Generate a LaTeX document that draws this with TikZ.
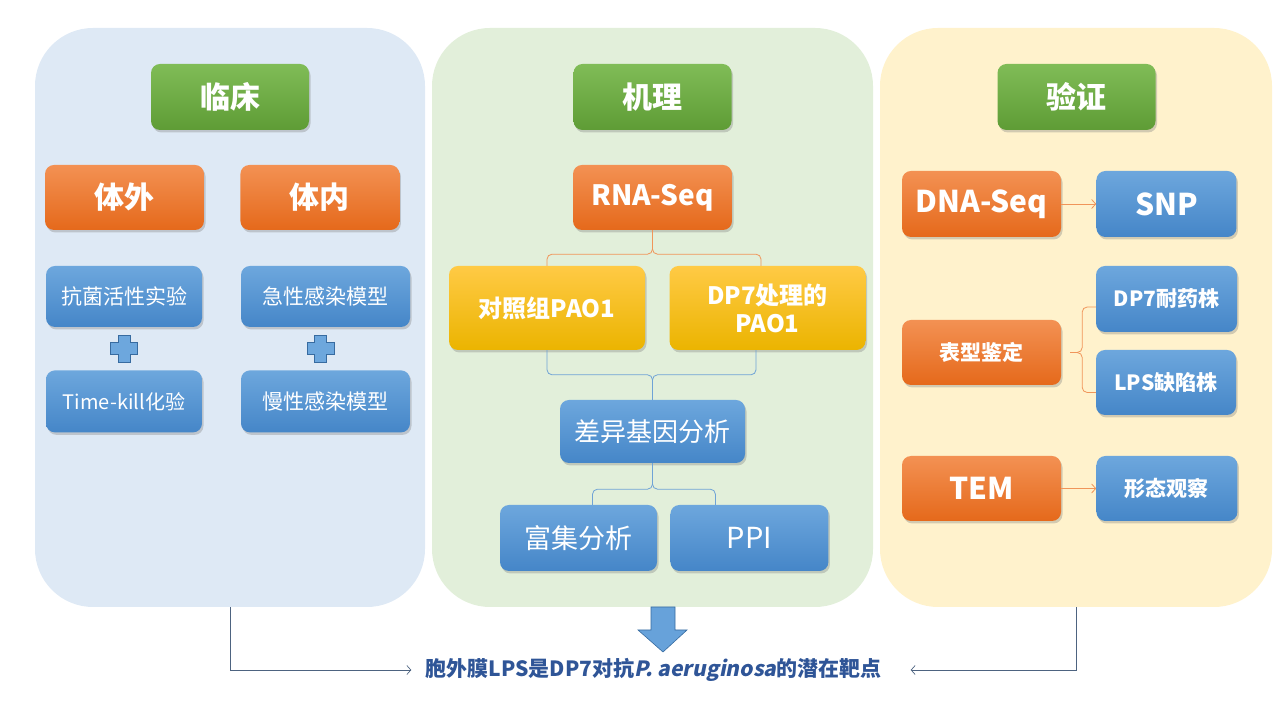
\documentclass[tikz,border=0pt]{standalone}
\usepackage{fontspec}
\setmainfont{Noto Sans CJK SC}
\newfontfamily\slantfont{Noto Sans CJK SC}[FakeSlant=0.2, BoldFeatures={FakeSlant=0.2}]
\usetikzlibrary{positioning, arrows.meta, shadows, calc}

\definecolor{panelblue}{HTML}{DEE9F5}
\definecolor{panelgreen}{HTML}{E2EFDA}
\definecolor{panelyellow}{HTML}{FFF2CC}
\definecolor{greenT}{HTML}{80BC57}
\definecolor{greenB}{HTML}{5E9C35}
\definecolor{orangeT}{HTML}{F39153}
\definecolor{orangeB}{HTML}{E5691B}
\definecolor{blueT}{HTML}{6DA7DD}
\definecolor{blueB}{HTML}{4586C8}
\definecolor{goldT}{HTML}{FFCA45}
\definecolor{goldB}{HTML}{EBB400}
\definecolor{braceblue}{HTML}{6FA3D6}
\definecolor{braceorange}{HTML}{F0955A}
\definecolor{linkgrey}{HTML}{4D6380}
\definecolor{concblue}{HTML}{2F5597}

\tikzset{plussign/.pic={
    \filldraw[fill=blueT, draw=blueB!80!black, line width=0.6pt]
      (-6,13.5) -- (6,13.5) -- (6,6) -- (13.5,6) -- (13.5,-6) -- (6,-6)
      -- (6,-13.5) -- (-6,-13.5) -- (-6,-6) -- (-13.5,-6) -- (-13.5,6)
      -- (-6,6) -- cycle;
}}

\begin{document}
\begin{tikzpicture}[x=1pt, y=1pt, >={Straight Barb[length=4pt, width=9pt]},
    panel/.style={rounded corners=58pt, inner sep=0pt, minimum height=579pt},
    box/.style={rounded corners=9pt, inner sep=0pt, align=center, text=white,
      drop shadow={shadow xshift=1.5pt, shadow yshift=-2.5pt, opacity=0.35}},
    greenbox/.style={box, top color=greenT, bottom color=greenB,
      minimum width=158pt, minimum height=66pt, font=\bfseries\fontsize{30}{34}\selectfont},
    orangebox/.style={box, top color=orangeT, bottom color=orangeB},
    bluebox/.style={box, top color=blueT, bottom color=blueB},
    goldbox/.style={box, top color=goldT, bottom color=goldB,
      minimum width=196pt, minimum height=84pt, font=\bfseries\fontsize{24}{28}\selectfont},
    bbrace/.style={draw=braceblue, line width=0.8pt, rounded corners=5pt},
    obrace/.style={draw=braceorange, line width=0.8pt, rounded corners=5pt},
    link/.style={draw=linkgrey, line width=0.7pt, ->}]

\useasboundingbox (0,0) rectangle (1280,720);

% panels
\node[panel, fill=panelblue, minimum width=390pt] (clin) at (230,402.5) {};
\node[panel, fill=panelgreen, minimum width=441pt] (mech) at (652.5,402.5) {};
\node[panel, fill=panelyellow, minimum width=392pt] (verif) at (1076,402.5) {};

% titles
\node[greenbox] (clintitle) at (230,623) {临床};
\node[greenbox] (mechtitle) at (652.5,623) {机理};
\node[greenbox] (veriftitle) at (1076.5,623) {验证};

% clinical column
\node[orangebox, minimum width=159pt, minimum height=65pt,
  font=\bfseries\fontsize{30}{34}\selectfont] (invitro) at (124.5,522.5) {体外};
\node[orangebox, minimum width=159pt, minimum height=65pt,
  font=\bfseries\fontsize{30}{34}\selectfont] (invivo) [right=36pt of invitro] {体内};
\node[bluebox, minimum width=156pt, minimum height=61pt,
  font=\fontsize{21}{25}\selectfont] (anti) at (124,423.5) {抗菌活性实验};
\node[bluebox, minimum width=169pt, minimum height=61pt,
  font=\fontsize{21}{25}\selectfont] (acute) at (325.5,423.5) {急性感染模型};
\node[bluebox, minimum width=156pt, minimum height=62pt,
  font=\fontsize{20}{24}\selectfont] (tkill) [below=43pt of anti] {Time-kill化验};
\node[bluebox, minimum width=169pt, minimum height=62pt,
  font=\fontsize{21}{25}\selectfont] (chronic) [below=43pt of acute] {慢性感染模型};
\pic at ($(anti.south)!0.5!(tkill.north)$) {plussign};
\pic at ($(acute.south)!0.5!(chronic.north)+(-5,0)$) {plussign};

% mechanism column
\node[orangebox, minimum width=159pt, minimum height=65pt,
  font=\bfseries\fontsize{28}{30}\selectfont] (rna) at (652.5,522.5) {RNA-Seq};
\node[goldbox] (ctrl) at (547,412) {对照组PAO1};
\node[goldbox] (treat) at (767.5,412) {DP7处理的\\PAO1};
\node[bluebox, minimum width=185pt, minimum height=63pt,
  font=\fontsize{26}{30}\selectfont] (diff) at (652.5,288.5) {差异基因分析};
\node[bluebox, minimum width=157pt, minimum height=66pt,
  font=\fontsize{27}{30}\selectfont] (enrich) at (578.5,182) {富集分析};
\node[bluebox, minimum width=158pt, minimum height=66pt,
  font=\fontsize{29}{30}\selectfont] (ppi) [right=13pt of enrich] {PPI};

\draw[obrace] (ctrl.north) |- ($(rna.south)+(0,-24)$) -- (rna.south);
\draw[obrace] (treat.north -| 761,0) |- ($(rna.south)+(0,-24)$) -- (rna.south);
\draw[bbrace] (ctrl.south) |- ($(diff.north)+(0,25)$) -- (diff.north);
\draw[bbrace] (treat.south -| 756,0) |- ($(diff.north)+(0,25)$) -- (diff.north);
\draw[bbrace] ($(enrich.north)+(14,0)$) |- ($(diff.south)+(0,-26)$) -- (diff.south);
\draw[bbrace] ($(ppi.north)+(-34,0)$) |- ($(diff.south)+(0,-26)$) -- (diff.south);

% verification column
\node[orangebox, minimum width=159pt, minimum height=66pt,
  font=\bfseries\fontsize{30}{34}\selectfont] (dna) at (981.5,516) {DNA-Seq};
\node[bluebox, minimum width=140pt, minimum height=66pt,
  font=\bfseries\fontsize{30}{34}\selectfont] (snp) [right=35pt of dna] {SNP};
\node[orangebox, minimum width=159pt, minimum height=65pt,
  font=\bfseries\fontsize{21}{25}\selectfont] (pheno) at (981.5,367.5) {表型鉴定};
\node[bluebox, minimum width=141pt, minimum height=66pt,
  font=\bfseries\fontsize{21}{25}\selectfont] (resist) at (1166.5,421) {DP7耐药株};
\node[bluebox, minimum width=140pt, minimum height=65pt,
  font=\bfseries\fontsize{21}{25}\selectfont] (lps) at (1166,337.5) {LPS缺陷株};
\node[orangebox, minimum width=159pt, minimum height=65pt,
  font=\bfseries\fontsize{30}{34}\selectfont] (tem) at (981.5,231.5) {TEM};
\node[bluebox, minimum width=141pt, minimum height=65pt,
  font=\bfseries\fontsize{21}{25}\selectfont] (morph) [right=35pt of tem] {形态观察};

\draw[->, draw=braceorange, line width=0.8pt] (dna) -- (snp);
\draw[->, draw=braceorange, line width=0.8pt] (tem) -- (morph);
\draw[obrace] ($(resist.west)+(0,-8)$) -| ($(pheno.east)+(21,0)$) -- ($(pheno.east)+(9,0)$);
\draw[obrace] ($(lps.west)+(0,-10)$) -| ($(pheno.east)+(21,0)$) -- ($(pheno.east)+(9,0)$);

% conclusion
\filldraw[fill=blueT!85!blueB, draw=blueB!80!black, line width=0.6pt]
  (651,113) -- (675,113) -- (675,90) -- (687,90) -- (663,68) -- (638,90)
  -- (651,90) -- cycle;
\node[text=concblue, inner xsep=0pt, font=\bfseries\fontsize{21}{25}\selectfont]
  (concl) at (653.5,50) {胞外膜LPS是DP7对抗{\slantfont\bfseries P. aeruginosa}的潜在靶点};
\draw[link] (clin.south) |- ($(concl.west)+(-14,0)$);
\draw[link] (verif.south) |- ($(concl.east)+(29,0)$);
\end{tikzpicture}
\end{document}
